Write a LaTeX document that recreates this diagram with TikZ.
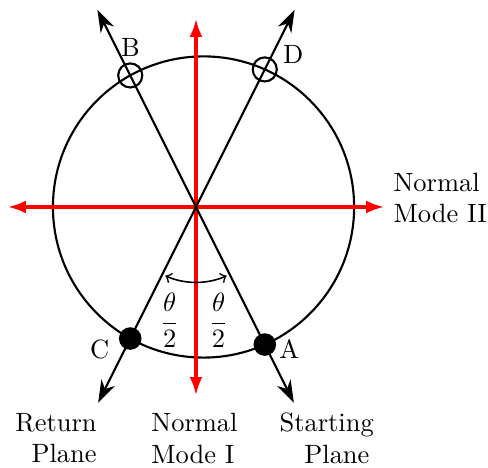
\documentclass[tikz,border=0pt]{standalone}
\usepackage{amsmath}
\usetikzlibrary{arrows.meta}

\begin{document}
\begin{tikzpicture}[line cap=round, line join=round,
		mode/.style={red, line width=1.2pt, {Latex[length=2.4mm,width=1.7mm]}-{Latex[length=2.4mm,width=1.7mm]}},
		plane/.style={thick, {Stealth[length=3mm,width=2mm]}-{Stealth[length=3mm,width=2mm]}},
		full/.style={circle, fill=black, inner sep=0pt, minimum size=3mm},
		open/.style={circle, draw, thick, inner sep=0pt, minimum size=3.2mm}]
			\useasboundingbox (-2.603,-3.466) rectangle (3.878,2.749);
			
			% 1. Cac diem co ban
			\coordinate (O) at (0,0);
			\coordinate (M) at (0.1,0);
			\coordinate (xL) at (-2.5,0);
			\coordinate (xR) at (2.5,0);
			\coordinate (yB) at (0,-2.5);
			\coordinate (yT) at (0,2.5);
			\coordinate (sT) at (-1.31,2.62);
			\coordinate (sB) at (1.30,-2.60);
			\coordinate (rT) at (1.31,2.62);
			\coordinate (rB) at (-1.30,-2.60);
			
			% 2. Vong tron
			\draw[thick] (M) circle (2);
			
			% 3. Hai mode chuan (truc do)
			\draw[mode] (xL) -- (xR);
			\draw[mode] (yB) -- (yT);
			
			% 4. Mat phang xuat phat va mat phang tro ve
			\draw[plane] (sT) -- (sB);
			\draw[plane] (rB) -- (rT);
			
			% 5. Goc theta
			\draw[semithick, to-to] (O) ++(246:1.0) arc (246:294:1.0);
			\node (tL) at (-0.35,-1.51) {$\dfrac{\theta}{2}$};
			\node (tR) at (0.30,-1.51) {$\dfrac{\theta}{2}$};
			
			% 6. Cac diem A, B, C, D
			\node[full] (A) at (0.9135,-1.827) {};
			\node[full] (C) at (-0.8735,-1.747) {};
			\node[open] (B) at (-0.8735,1.747) {};
			\node[open] (D) at (0.9135,1.827) {};
			\node (labA) at (1.24,-1.89) {A};
			\node (labB) at (-0.87,2.12) {B};
			\node (labC) at (-1.28,-1.89) {C};
			\node (labD) at (1.29,2.03) {D};
			
			% 7. Chu thich
			\node[anchor=west, align=left] (m2) at (2.5,0.12) {Normal\\Mode II};
			\node[align=right] (ret) at (-1.86,-3.07) {Return\\Plane};
			\node[align=left] (m1) at (-0.02,-3.07) {Normal\\Mode I};
			\node[align=left] (sta) at (1.735,-3.07) {Starting\\\hspace{3.3mm}Plane};
	\end{tikzpicture}
\end{document}
